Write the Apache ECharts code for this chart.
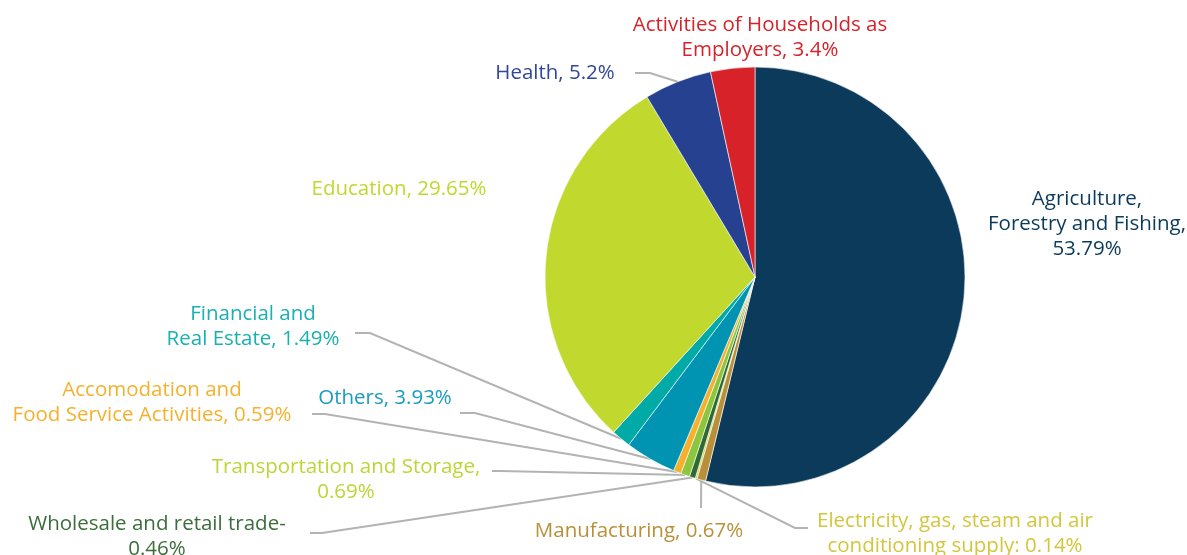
<!DOCTYPE html>
<html>
<head>
<meta charset="utf-8">
<script src="https://cdn.jsdelivr.net/npm/echarts@6/dist/echarts.min.js"></script>
<style>
    html, body { margin: 0; padding: 0; background: #fff; }
    #chart { width: 1187px; height: 555px; }
</style>
</head>
<body>
<div id="chart"></div>
<script>
    // sectors, clockwise from 12 o'clock
    const sectors = [
        'Agriculture,\nForestry and Fishing,\n',
        'Manufacturing,',
        'Electricity, gas, steam and air\nconditioning supply:',
        'Wholesale and retail trade-\n',
        'Transportation and Storage,\n',
        'Accomodation and\nFood Service Activities,',
        'Others,',
        'Financial and\nReal Estate,',
        'Education,',
        'Health,',
        'Activities of Households as\nEmployers,'
    ];
    const shares = [53.79, 0.67, 0.14, 0.46, 0.69, 0.59, 3.93, 1.49, 29.65, 5.2, 3.4];
    const sliceColors = ['#0b3a5a', '#b8903a', '#d8cf4e', '#2f6a34', '#8cc63f', '#f5b12d',
        '#0093b2', '#00aaa7', '#c1d82f', '#26418f', '#d7222a'];
    const textColors = ['#0b3a5a', '#b8903a', '#d3c63c', '#3c6e3c', '#bcd637', '#f5b12d',
        '#1a9cc0', '#1bb0b0', '#c1d82f', '#33479a', '#d7222a'];

    // label placement: [centerX, middleY, elbowX, lineY, endX] (null = no leader line)
    const labelSpots = [
        [1087, 224, null],
        [639, 531, 701, 508, 701],
        [955, 534, 795, 528, 808],
        [157, 537, 322, 533, 310],
        [346, 480, 500, 471, 492],
        [152, 403, 325, 414, 312],
        [385, 398, 475, 413, 460],
        [253, 327, 370, 333, 355],
        [399, 189, null],
        [555, 73, 650, 73, 635],
        [760, 38, null]
    ];

    const chart = echarts.init(document.getElementById('chart'));

    const data = sectors.map((name, i) => ({
        name: name,
        value: shares[i],
        itemStyle: { color: sliceColors[i] },
        label: { color: textColors[i] },
        labelLine: { show: labelSpots[i][2] !== null }
    }));

    chart.setOption({
        animation: false,
        series: [{
            type: 'pie',
            center: [755, 277],
            radius: [0, 210],
            startAngle: 90,
            clockwise: true,
            avoidLabelOverlap: false,
            itemStyle: { borderColor: '#fff', borderWidth: 0.6 },
            label: {
                position: 'outside',
                fontFamily: 'Open Sans',
                fontSize: 20.5,
                lineHeight: 25,
                align: 'center',
                formatter: p => p.name + (p.name.endsWith('\n') ? '' : ' ') + p.value + '%'
            },
            labelLine: {
                length: 10,
                length2: 10,
                lineStyle: { color: '#b3b3b3', width: 2 }
            },
            labelLayout: function (params) {
                const s = labelSpots[params.dataIndex];
                const out = { x: s[0], y: s[1], align: 'center', verticalAlign: 'middle' };
                if (s[2] !== null && params.labelLinePoints) {
                    const p0 = params.labelLinePoints[0];
                    out.labelLinePoints = [[p0[0], p0[1]], [s[2], s[3]], [s[4], s[3]]];
                }
                return out;
            },
            data: data
        }]
    });
</script>
</body>
</html>
